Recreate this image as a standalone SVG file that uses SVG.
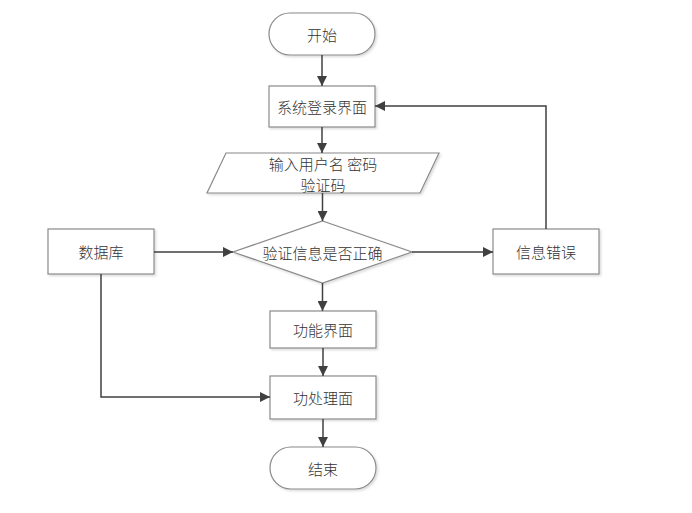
<svg xmlns="http://www.w3.org/2000/svg" width="692" height="513" viewBox="0 0 692 513">
<defs>
<marker id="arr" viewBox="0 0 10 10" refX="10" refY="5" markerWidth="10" markerHeight="10" markerUnits="userSpaceOnUse" orient="auto">
<path d="M0,0 L10,5 L0,10 z" fill="#404040"/>
</marker>
<filter id="sh" x="-10%" y="-10%" width="130%" height="130%">
<feDropShadow dx="1.5" dy="1.5" stdDeviation="1" flood-color="#000" flood-opacity="0.15"/>
</filter>
</defs>
<style>
.s{fill:#fff;stroke:#8a8a8a;stroke-width:1.2;filter:url(#sh)}
.t{font-family:"Noto Sans CJK SC","Noto Sans CJK JP",sans-serif;font-size:15px;fill:#333;text-anchor:middle;dominant-baseline:central;font-weight:300}
.c{fill:none;stroke:#404040;stroke-width:1.5;marker-end:url(#arr)}
</style>
<rect width="692" height="513" fill="#fff"/>
<g id="start"><rect class="s" x="269" y="13" width="106" height="42" rx="21"/><text class="t" x="322" y="34">开始</text></g>
<g id="login"><rect class="s" x="269" y="86" width="106" height="41"/><text class="t" x="322" y="106.5">系统登录界面</text></g>
<g id="input"><polygon class="s" points="226,153 439,153 420,193 207,193"/><text class="t" x="323" y="163">输入用户名 密码</text><text class="t" x="323" y="184">验证码</text></g>
<g id="verify"><polygon class="s" points="322.5,221 412,252 322.5,283 233,252"/><text class="t" x="322.5" y="252">验证信息是否正确</text></g>
<g id="db"><rect class="s" x="48" y="229" width="106" height="45"/><text class="t" x="101" y="251.5">数据库</text></g>
<g id="err"><rect class="s" x="493" y="229" width="106" height="45"/><text class="t" x="546" y="251.5">信息错误</text></g>
<g id="func"><rect class="s" x="270" y="311" width="106" height="37"/><text class="t" x="323" y="329.5">功能界面</text></g>
<g id="proc"><rect class="s" x="270" y="376" width="106" height="43"/><text class="t" x="323" y="397.5">功处理面</text></g>
<g id="end"><rect class="s" x="270" y="447" width="106" height="42" rx="21"/><text class="t" x="323" y="468">结束</text></g>
<g id="connectors">
<path class="c" d="M322,55 V86"/>
<path class="c" d="M322,127 V153"/>
<path class="c" d="M322.5,193 V221"/>
<path class="c" d="M154,252 H233"/>
<path class="c" d="M412,252 H493"/>
<path class="c" d="M546,229 V106 H375"/>
<path class="c" d="M322.5,283 V311"/>
<path class="c" d="M323,348 V376"/>
<path class="c" d="M101,274 V397 H270"/>
<path class="c" d="M323,419 V447"/>
</g>
</svg>
